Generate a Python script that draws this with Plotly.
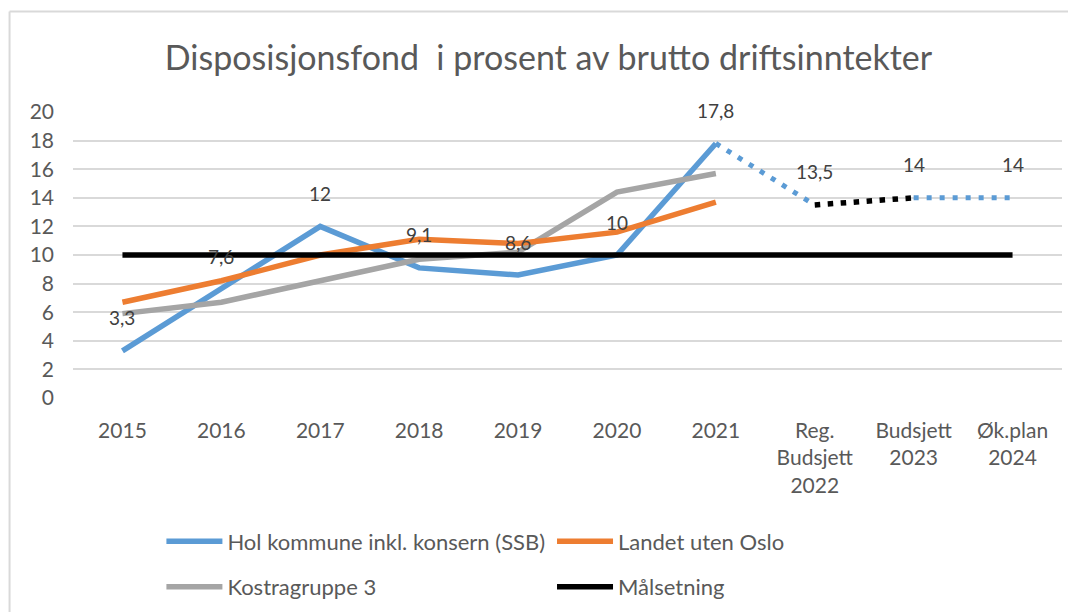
import plotly.graph_objects as go

categories = ["2015", "2016", "2017", "2018", "2019", "2020", "2021",
              "Reg.<br>Budsjett<br>2022", "Budsjett<br>2023", "Øk.plan<br>2024"]

hol_values = [3.3, 7.6, 12, 9.1, 8.6, 10, 17.8, 13.5, 14, 14]
landet_values = [6.7, 8.2, 10.0, 11.1, 10.8, 11.6, 13.7]
kostra_values = [5.9, 6.7, 8.2, 9.7, 10.2, 14.4, 15.7]
maal_values = [10, 10, 10, 10, 10, 10, 10, 10, 10, 10]

title_text = "Disposisjonsfond  i prosent av brutto driftsinntekter"
name_hol = "Hol kommune inkl. konsern (SSB)"
name_landet = "Landet uten Oslo"
name_kostra = "Kostragruppe 3"
name_maal = "Målsetning"

BLUE = "#5B9BD5"
ORANGE = "#ED7D31"
GRAY = "#A5A5A5"
BLACK = "#000000"
TXT = "#595959"
FONT = "Lato"
LW = 5.5

# page body margin offset (browser default 8px)
OFF = 8
FIG_W, FIG_H = 1076 - OFF, 612 - OFF
ML, MR, MT, MB = 64.5, 13.5, 103.7, 213.7
PW, PH = FIG_W - ML - MR, FIG_H - MT - MB


def px_x(page_x):
    return (page_x - OFF - ML) / PW


def px_y(page_y):
    return (FIG_H - MB - (page_y - OFF)) / PH


n_hist = 7  # actual figures 2015-2021


def segment(values, start, stop):
    return [v if start <= i <= stop else None for i, v in enumerate(values)]


fig = go.Figure()

fig.add_trace(go.Scatter(x=categories[:n_hist], y=hol_values[:n_hist], mode="lines",
                         name=name_hol, line=dict(color=BLUE, width=LW),
                         legend="legend", legendgroup="g1"))
fig.add_trace(go.Scatter(x=categories[:len(kostra_values)], y=kostra_values, mode="lines",
                         name=name_kostra, line=dict(color=GRAY, width=LW),
                         legend="legend", legendgroup="g2"))
fig.add_trace(go.Scatter(x=categories[:len(landet_values)], y=landet_values, mode="lines",
                         name=name_landet, line=dict(color=ORANGE, width=LW),
                         legend="legend2", legendgroup="g3"))
fig.add_trace(go.Scatter(x=categories, y=maal_values, mode="lines",
                         name=name_maal, line=dict(color=BLACK, width=LW),
                         legend="legend2", legendgroup="g4"))

# projected parts of the Hol series (dotted)
fig.add_trace(go.Scatter(x=categories, y=segment(hol_values, 6, 7), mode="lines",
                         showlegend=False, line=dict(color=BLUE, width=5, dash="5px,8px")))
fig.add_trace(go.Scatter(x=categories, y=segment(hol_values, 7, 8), mode="lines",
                         showlegend=False, line=dict(color=BLACK, width=5.5, dash="5.5px,7.5px")))
fig.add_trace(go.Scatter(x=categories, y=segment(hol_values, 8, 9), mode="lines",
                         showlegend=False, line=dict(color=BLUE, width=5, dash="5px,8px")))

# data labels for the Hol series (category index on the category axis)
for i, v in enumerate(hol_values):
    fig.add_annotation(x=i, y=v, text=f"{v:g}".replace(".", ","), showarrow=False,
                       yshift=33, font=dict(family=FONT, size=19, color="#404040"))

# chart-area border (left and top only, as in the reference crop)
bx, by = px_x(9), px_y(11)
fig.add_shape(type="line", xref="paper", yref="paper", x0=bx, x1=bx, y0=-0.8, y1=by,
              line=dict(color="#D9D9D9", width=2))
fig.add_shape(type="line", xref="paper", yref="paper", x0=bx, x1=1.03, y0=by, y1=by,
              line=dict(color="#D9D9D9", width=2))

legend_font = dict(family=FONT, size=22, color=TXT)

fig.update_layout(
    width=FIG_W, height=FIG_H,
    margin=dict(l=ML, r=MR, t=MT, b=MB, autoexpand=False),
    paper_bgcolor="white", plot_bgcolor="white",
    font=dict(family=FONT, color=TXT),
    title=dict(text=title_text, x=(548.5 - OFF) / FIG_W, xanchor="center", xref="container",
               y=1 - (58 - OFF) / FIG_H, yanchor="middle", yref="container",
               font=dict(family=FONT, size=34, color=TXT)),
    xaxis=dict(type="category", range=[-0.5, 9.5], showgrid=False, zeroline=False,
               showline=False, ticks="", tickfont=dict(family=FONT, size=21, color=TXT),
               ticklabelstandoff=18),
    yaxis=dict(range=[0, 20], dtick=2, showgrid=True, gridcolor="#D9D9D9", gridwidth=1.5,
               zeroline=False, showline=False, ticks="",
               tickfont=dict(family=FONT, size=21, color=TXT), ticklabelstandoff=18),
    legend=dict(x=px_x(161), y=px_y(521), xanchor="left", yanchor="top",
                orientation="v", itemwidth=56, tracegroupgap=14,
                font=legend_font, bgcolor="rgba(0,0,0,0)"),
    legend2=dict(x=px_x(552), y=px_y(521), xanchor="left", yanchor="top",
                 orientation="v", itemwidth=56, tracegroupgap=14,
                 font=legend_font, bgcolor="rgba(0,0,0,0)"),
    showlegend=True,
)

fig.write_html("out.html")
